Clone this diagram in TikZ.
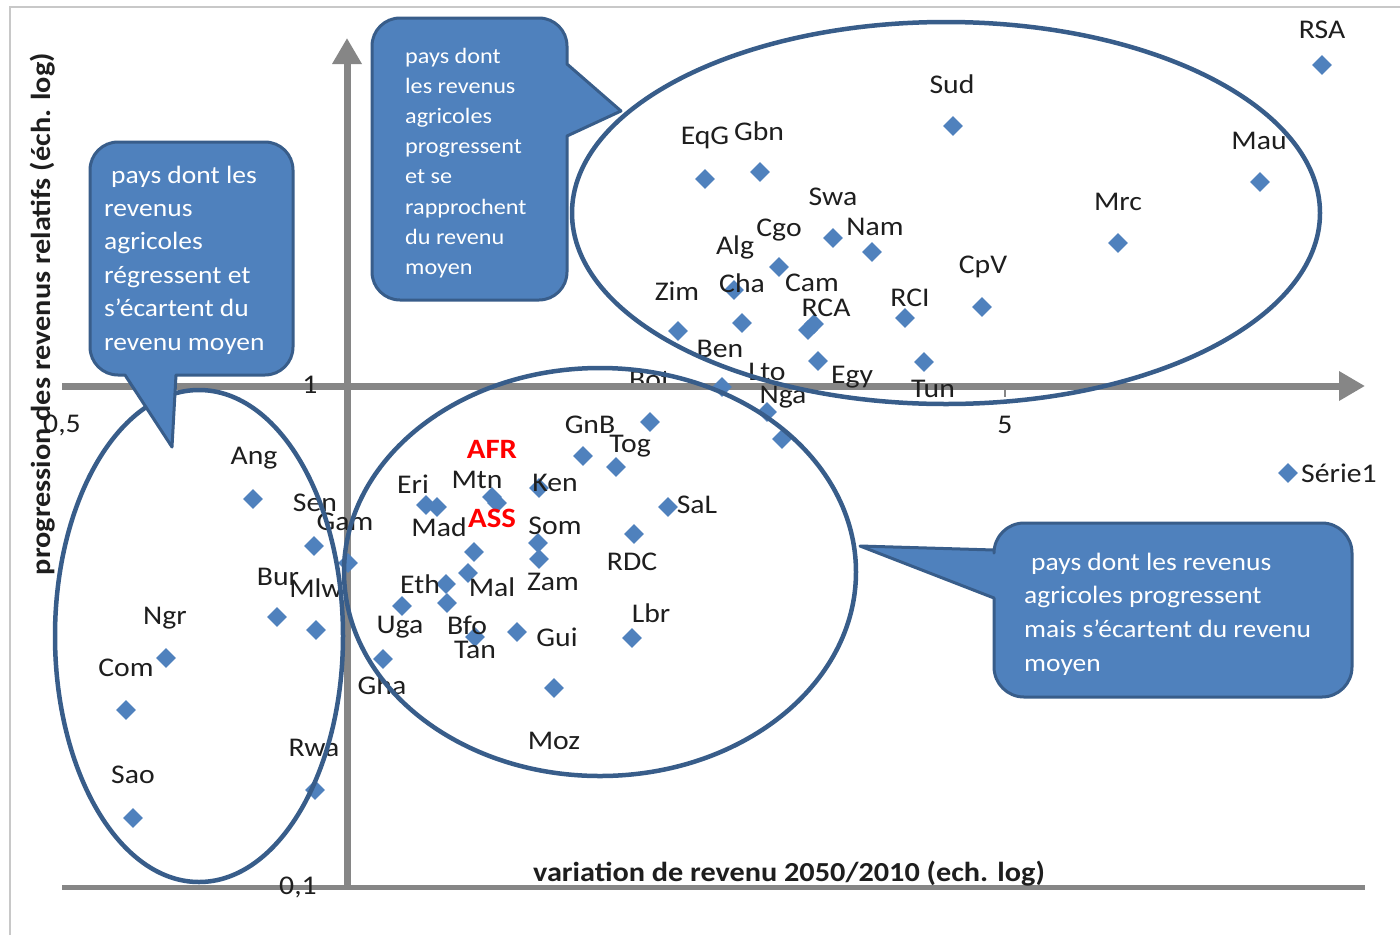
\documentclass[tikz,border=0pt]{standalone}
\usepackage{fontspec}
\setmainfont{Carlito}[FakeStretch=1.1]
\usetikzlibrary{shapes.geometric,arrows.meta}
\definecolor{ptblue}{RGB}{79,129,189}
\definecolor{ringblue}{RGB}{56,93,138}
\definecolor{axgray}{RGB}{134,134,134}
\definecolor{framegray}{RGB}{200,200,200}
\definecolor{labcol}{RGB}{30,30,30}
\begin{document}
\begin{tikzpicture}[x=1pt,y=-1pt,
  mk/.style={diamond, fill=ptblue, minimum width=20pt, minimum height=20pt, inner sep=0pt},
  dlab/.style={font=\fontsize{27}{27}\selectfont, text=labcol, inner sep=0pt},
  redlab/.style={font=\bfseries\fontsize{28}{28}\selectfont, text=red, inner sep=0pt},
  axtitle/.style={font=\bfseries\fontsize{27.5}{27.5}\selectfont, text=labcol, inner sep=0pt},
  axisline/.style={draw=axgray, line width=7pt},
  ring/.style={draw=ringblue, line width=4.5pt},
  bubble/.style={fill=ptblue, draw=ringblue, line width=3pt, line join=round},
  bubtext/.style={text=white, align=left, inner sep=0pt, anchor=west},
]
\useasboundingbox (0,0) rectangle (1400,935);
\fill[white] (0,0) rectangle (1400,935);
% frame
\draw[framegray, line width=2pt] (10,935) -- (10,7) -- (1400,7);

% labels hidden under the axis
\node[dlab] (lBot) at (650,380) {Bot};
\node[dlab] (lLto) at (767,372) {Lto};

% axes
\coordinate (xs) at (62,386);
\coordinate (xe) at (1365,386);
\coordinate (ys) at (347,888);
\coordinate (ye) at (347,38);
\coordinate (bs) at (62,887);
\coordinate (be) at (1365,887);
\draw[axisline, line width=5pt] (bs) -- (be);
\draw[axisline, -{Triangle[width=28pt,length=26pt]}] (xs) -- (xe);
\draw[axisline, -{Triangle[width=28pt,length=26pt]}] (ys) -- (ye);
\draw[axgray, line width=2pt] (1005,389) -- (1005,397);

% tick labels and titles
\node[dlab] (t1) at (310,385) {1};
\node[dlab] (t05) at (62,425) {0,5};
\node[dlab] (t5) at (1005,425) {5};
\node[dlab] (t01) at (298,887) {0,1};
\node[axtitle, rotate=90] (ytitle) at (43,314) {progression des revenus relatifs (éch. log)};
\node[axtitle] (xtitle) at (789,874) {variation de revenu 2050/2010 (ech. log)};

% legend
\node[mk] (legm) at (1288,473) {};
\node[dlab, anchor=west] (legt) at (1301,473) {Série1};

% data points
\node[mk] (dRSA) at (1322,65) {};
\node[mk] (dSud) at (953,126) {};
\node[mk] (dMau) at (1260,182) {};
\node[mk] (dEqG) at (705,179) {};
\node[mk] (dGbn) at (760,172) {};
\node[mk] (dSwa) at (833,238) {};
\node[mk] (dNam) at (872,252) {};
\node[mk] (dMrc) at (1118,243) {};
\node[mk] (dCgo) at (779,267) {};
\node[mk] (dCha) at (734,290) {};
\node[mk] (dAlg) at (742,323) {};
\node[mk] (dZim) at (678,331) {};
\node[mk] (dRCA) at (808,330) {};
\node[mk] (dCam) at (814,324) {};
\node[mk] (dRCI) at (905,318) {};
\node[mk] (dCpV) at (982,307) {};
\node[mk] (dEgy) at (818,361) {};
\node[mk] (dTun) at (924,362) {};
\node[mk] (dBot) at (722,387) {};
\node[mk] (dNga) at (767,412) {};
\node[mk] (dLto) at (782,439) {};
\node[mk] (dBen) at (650,422) {};
\node[mk] (dGnB) at (583,456) {};
\node[mk] (dTog) at (616,467) {};
\node[mk] (dEri) at (426,505) {};
\node[mk] (dMad) at (437,507) {};
\node[mk] (dMtn) at (492,497) {};
\node[mk] (dAFR) at (497,503) {};
\node[mk] (dKen) at (539,488) {};
\node[mk] (dSaL) at (668,507) {};
\node[mk] (dSom) at (538,543) {};
\node[mk] (dZam) at (539,559) {};
\node[mk] (dASS) at (474,552) {};
\node[mk] (dRDC) at (634,534) {};
\node[mk] (dMal) at (468,573) {};
\node[mk] (dEth) at (446,584) {};
\node[mk] (dBfo) at (447,603) {};
\node[mk] (dUga) at (402,606) {};
\node[mk] (dTan) at (475,637) {};
\node[mk] (dGui) at (517,632) {};
\node[mk] (dLbr) at (632,638) {};
\node[mk] (dGha) at (383,659) {};
\node[mk] (dMoz) at (554,688) {};
\node[mk] (dGam) at (348,563) {};
\node[mk] (dAng) at (253,499) {};
\node[mk] (dSen) at (314,546) {};
\node[mk] (dBur) at (277,617) {};
\node[mk] (dMlw) at (316,630) {};
\node[mk] (dNgr) at (166,658) {};
\node[mk] (dCom) at (126,710) {};
\node[mk] (dRwa) at (315,790) {};
\node[mk] (dSao) at (133,818) {};

% data labels
\node[dlab] (lRSA) at (1322,30) {RSA};
\node[dlab] (lSud) at (952,84) {Sud};
\node[dlab] (lMau) at (1259,141) {Mau};
\node[dlab] (lEqG) at (705,138) {EqG};
\node[dlab] (lGbn) at (759,131) {Gbn};
\node[dlab] (lSwa) at (833,197) {Swa};
\node[dlab] (lNam) at (875,227) {Nam};
\node[dlab] (lMrc) at (1118,202) {Mrc};
\node[dlab] (lAlg) at (735,247) {Alg};
\node[dlab] (lCgo) at (779,230) {Cgo};
\node[dlab] (lZim) at (677,291) {Zim};
\node[dlab] (lCha) at (742,283) {Cha};
\node[dlab] (lCam) at (812,283) {Cam};
\node[dlab] (lRCA) at (826,308) {RCA};
\node[dlab] (lRCI) at (910,298) {RCI};
\node[dlab] (lCpV) at (983,267) {CpV};
\node[dlab] (lBen) at (720,349) {Ben};
\node[dlab] (lEgy) at (852,377) {Egy};
\node[dlab] (lTun) at (933,389) {Tun};
\node[dlab] (lNga) at (783,397) {Nga};
\node[redlab] (lAFR) at (492,449) {AFR};
\node[redlab] (lASS) at (492,518) {ASS};
\node[dlab] (lGnB) at (590,425) {GnB};
\node[dlab] (lTog) at (630,446) {Tog};
\node[dlab] (lEri) at (413,484) {Eri};
\node[dlab] (lMtn) at (477,480) {Mtn};
\node[dlab] (lKen) at (555,483) {Ken};
\node[dlab] (lMad) at (439,527) {Mad};
\node[dlab] (lSaL) at (697,505) {SaL};
\node[dlab] (lSom) at (555,526) {Som};
\node[dlab] (lRDC) at (632,562) {RDC};
\node[dlab] (lEth) at (420,584) {Eth};
\node[dlab] (lMal) at (492,587) {Mal};
\node[dlab] (lZam) at (553,582) {Zam};
\node[dlab] (lUga) at (400,627) {Uga};
\node[dlab] (lBfo) at (467,625) {Bfo};
\node[dlab] (lTan) at (475,650) {Tan};
\node[dlab] (lGui) at (557,637) {Gui};
\node[dlab] (lLbr) at (651,613) {Lbr};
\node[dlab] (lGha) at (382,685) {Gha};
\node[dlab] (lMoz) at (554,741) {Moz};
\node[dlab] (lAng) at (254,458) {Ang};
\node[dlab] (lSen) at (315,503) {Sen};
\node[dlab] (lGam) at (345,522) {Gam};
\node[dlab] (lBur) at (278,577) {Bur};
\node[dlab] (lMlw) at (316,588) {Mlw};
\node[dlab] (lNgr) at (165,618) {Ngr};
\node[dlab] (lCom) at (126,668) {Com};
\node[dlab] (lRwa) at (314,748) {Rwa};
\node[dlab] (lSao) at (133,775) {Sao};

% ellipses
\draw[ring] (946,213) ellipse [x radius=374pt, y radius=191pt];
\draw[ring] (600,572) ellipse [x radius=256pt, y radius=204pt];
\draw[ring] (199,636) ellipse [x radius=144pt, y radius=246pt];

% callout: left
\draw[bubble] (172,447) -- (125,375) [rounded corners=28pt] -- (90,375) -- (90,142) -- (293,142) -- (293,375) [sharp corners] -- (176,375) -- cycle;
\node[bubtext, font=\fontsize{25}{33.4}\selectfont] (c1) at (104,260)
  {\hspace*{7pt}pays dont les\\revenus\\agricoles\\régressent et\\s'écartent du\\revenu moyen};

% callout: top middle
\draw[bubble] (621,111) -- (567,136) [rounded corners=28pt] -- (567,300) -- (372,300) -- (372,18) -- (567,18) [sharp corners] -- (567,64) -- cycle;
\node[bubtext, font=\fontsize{22}{30.1}\selectfont] (c2) at (405,163)
  {pays dont\\les revenus\\agricoles\\progressent\\et se\\rapprochent\\du revenu\\moyen};

% callout: bottom right
\draw[bubble] (860,546) -- (994,550) [rounded corners=30pt] -- (994,523) -- (1352,523) -- (1352,697) -- (994,697) [sharp corners] -- (994,598) -- cycle;
\node[bubtext, font=\fontsize{25}{33.7}\selectfont] (c3) at (1024,614)
  {\hspace*{7pt}pays dont les revenus\\agricoles progressent\\mais s'écartent du revenu\\moyen};
\end{tikzpicture}
\end{document}
